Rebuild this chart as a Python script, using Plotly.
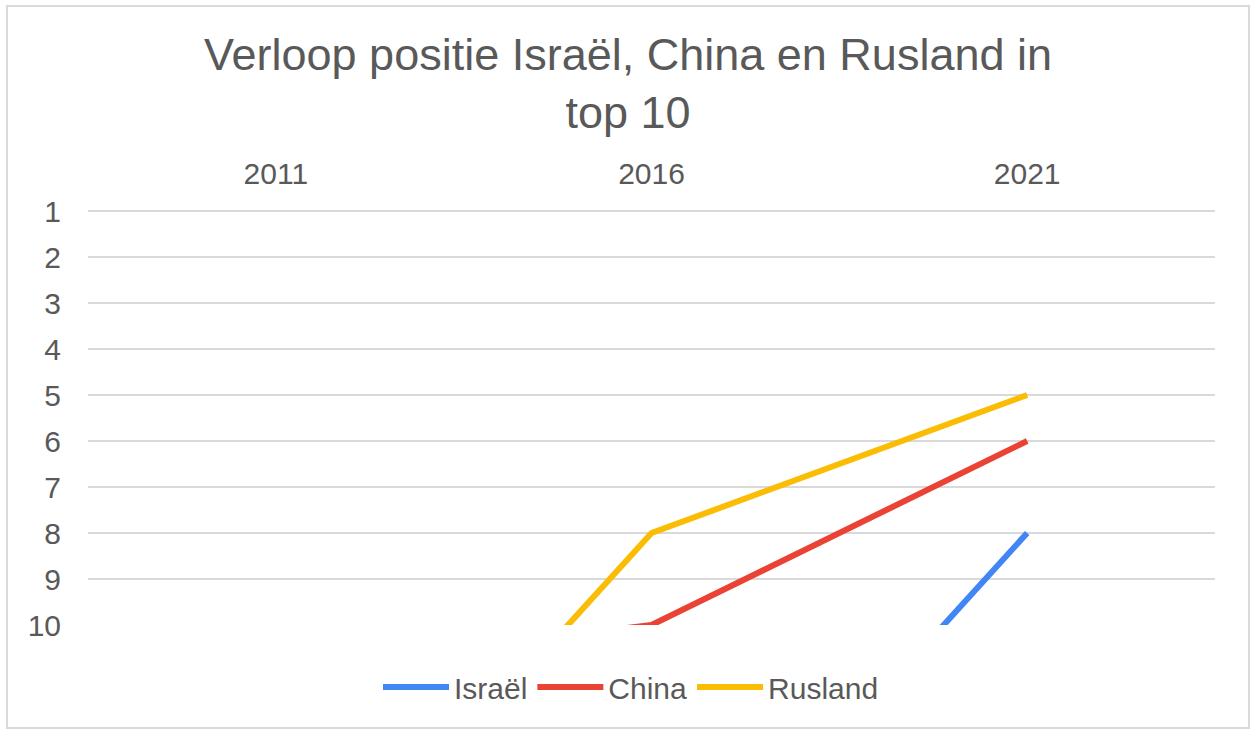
import plotly.graph_objects as go

# -----------------------
# Data (ranks; >10 falls outside the top 10 and gets clipped)
# -----------------------
years = ["2011", "2016", "2021"]
israel = [17, 17, 8]
china = [11, 10, 6]
rusland = [17, 8, 5]
rank_ticks = list(range(1, 11))

W, H = 1251, 729
PL, PR, PB = 88, 36, 104  # plot area margins in px
PT = 209                   # a bit above rank 1 so its gridline stays visible
TOP_RANK = 1 - 2 / 46      # range top matching PT


def px_to_paper_x(px):
    return (px - PL) / (W - PL - PR)


def px_to_paper_y(py):
    return (H - PB - py) / (H - PB - PT)


fig = go.Figure()
series = [
    ("Israël", israel, "#4285F4"),
    ("China", china, "#EA4335"),
    ("Rusland", rusland, "#FBBC04"),
]
for name, vals, color in series:
    fig.add_trace(
        go.Scatter(
            x=years,
            y=vals,
            name=name,
            mode="lines",
            line=dict(color=color, width=6),
        )
    )

# chart-area border (Excel style)
fig.add_shape(
    type="rect",
    xref="paper",
    yref="paper",
    x0=px_to_paper_x(7),
    x1=px_to_paper_x(1249),
    y0=px_to_paper_y(728),
    y1=px_to_paper_y(6),
    line=dict(color="#d9d9d9", width=2),
    layer="below",
)

fig.update_layout(
    width=W,
    height=H,
    paper_bgcolor="white",
    plot_bgcolor="white",
    font=dict(family="Liberation Sans, Arial, sans-serif", color="#595959", size=30),
    title=dict(
        text="Verloop positie Israël, China en Rusland in<br>top 10",
        x=0.502,
        xanchor="center",
        y=0.904,
        yanchor="top",
        font=dict(size=45, color="#595959"),
    ),
    margin=dict(l=PL, r=PR, t=PT, b=PB),
    legend=dict(
        orientation="h",
        x=px_to_paper_x(631),
        xanchor="center",
        y=px_to_paper_y(687),
        yanchor="middle",
        font=dict(size=30, color="#595959"),
        itemwidth=66,
    ),
    showlegend=True,
)
fig.update_xaxes(
    type="category",
    categoryorder="array",
    categoryarray=years,
    range=[-0.5, 2.5],
    side="top",
    showgrid=False,
    zeroline=False,
    showline=False,
    ticks="",
    ticklabelstandoff=18,
)
fig.update_yaxes(
    range=[10, TOP_RANK],
    tickmode="array",
    tickvals=rank_ticks,
    ticktext=[str(v) for v in rank_ticks],
    showgrid=True,
    gridcolor="#d9d9d9",
    gridwidth=2,
    zeroline=False,
    showline=False,
    ticks="",
    ticklabelstandoff=26,
)

fig.write_html(
    "out.html",
    config={"displayModeBar": False},
    post_script="document.body.style.margin='0';",
)
